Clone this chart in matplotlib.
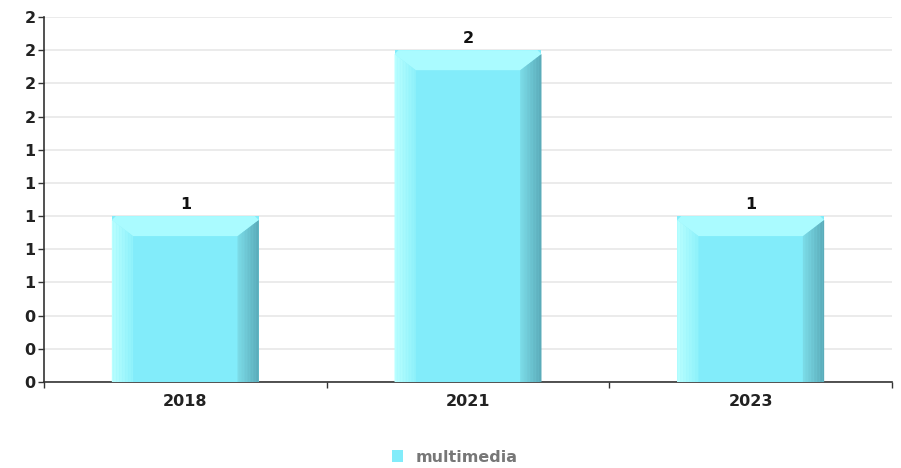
import matplotlib
matplotlib.use("Agg")
import matplotlib.pyplot as plt
from matplotlib.patches import Polygon, Rectangle
import numpy as np

categories = ["2018", "2021", "2023"]
values = [1, 2, 1]
series_name = "multimedia"
ytick_values = [0, 0.2, 0.4, 0.6, 0.8, 1.0, 1.2, 1.4, 1.6, 1.8, 2.0, 2.2]
ytick_labels = ["0", "0", "0", "1", "1", "1", "1", "1", "2", "2", "2", "2"]

W, H = 901, 468
fig = plt.figure(figsize=(W / 100, H / 100), dpi=100)
ax = fig.add_axes([44 / W, (H - 382) / H, (892 - 44) / W, (382 - 17) / H])

x = np.arange(len(categories))
bw = 0.52
main = "#82ecfa"
ax.set_xlim(-0.5, len(categories) - 0.5)
ax.set_ylim(0, 2.2)

bars = ax.bar(x, values, width=bw, color=main, zorder=3, linewidth=0)

px_x = len(categories) / (892 - 44)
px_y = 2.2 / (382 - 17)
bx = 21 * px_x
by = 20 * px_y
cr = 4  # corner cut in px


def lerp(c0, c1, t):
    return (np.array(c0) * (1 - t) + np.array(c1) * t) / 255.0


n = 14
for xi, v in zip(x, values):
    l, r = xi - bw / 2, xi + bw / 2
    # top strip
    ax.add_patch(Polygon([(l, v - cr * px_y), (l + cr * px_x, v), (r - cr * px_x, v),
                          (r, v - cr * px_y), (r - bx, v - by), (l + bx, v - by)],
                         closed=True, facecolor="#aafbff", edgecolor="none", zorder=4))
    # left strip with gradient, top follows diagonal
    for k in range(n):
        x0 = l + bx * k / n
        x1 = l + bx * (k + 1) / n
        t0, t1 = (x0 - l) / bx, (x1 - l) / bx
        y0 = (v - cr * px_y) + t0 * (-(by - cr * px_y))
        y1 = (v - cr * px_y) + t1 * (-(by - cr * px_y))
        c = lerp([0xbb, 0xff, 0xff], [0x8e, 0xf1, 0xfb], (k + 0.5) / n)
        ax.add_patch(Polygon([(x0, 0), (x1 + 0.3 * px_x, 0), (x1 + 0.3 * px_x, y1), (x0, y0)],
                             closed=True, facecolor=c, edgecolor="none", zorder=4))
    # right strip with gradient
    for k in range(n):
        x0 = r - bx + bx * k / n
        x1 = r - bx + bx * (k + 1) / n
        t0, t1 = (x0 - (r - bx)) / bx, (x1 - (r - bx)) / bx
        y0 = (v - by) + t0 * (by - cr * px_y)
        y1 = (v - by) + t1 * (by - cr * px_y)
        c = lerp([0x7c, 0xdc, 0xe8], [0x5a, 0xaa, 0xb8], (k + 0.5) / n)
        ax.add_patch(Polygon([(x0 - 0.3 * px_x, 0), (x1, 0), (x1, y1), (x0 - 0.3 * px_x, y0)],
                             closed=True, facecolor=c, edgecolor="none", zorder=4))
    ax.text(xi, v + 0.025, str(v), ha="center", va="bottom", fontsize=11.5,
            fontweight="bold", color="#111111", zorder=5)

ax.set_yticks(ytick_values)
ax.set_yticklabels(ytick_labels, fontsize=11.5, fontweight="bold", color="#222222")
ax.yaxis.grid(True, color="#e8e8e8", linewidth=1.2, zorder=0)
ax.set_axisbelow(True)

ax.set_xticks(x)
ax.set_xticklabels(categories, fontsize=11.5, fontweight="bold", color="#222222")
ax.tick_params(axis="x", length=0, pad=9)
ax.set_xticks(np.arange(len(categories) + 1) - 0.5, minor=True)
ax.tick_params(axis="x", which="minor", length=4, width=1, color="#333333")
ax.tick_params(axis="y", length=4, width=1, color="#333333", pad=2)

for s in ["top", "right"]:
    ax.spines[s].set_visible(False)
for s in ["left", "bottom"]:
    ax.spines[s].set_color("#333333")
    ax.spines[s].set_linewidth(1.2)
    ax.spines[s].set_zorder(2)

leg_handle = Rectangle((0, 0), 1, 1, facecolor=main, edgecolor="none")
leg = fig.legend([leg_handle], [series_name], loc="center", bbox_to_anchor=(455 / W, 1 - 457 / H),
                 frameon=False, handlelength=0.7, handleheight=0.7, handletextpad=0.8,
                 prop={"size": 11.5, "weight": "bold"})
for t in leg.get_texts():
    t.set_color("#777777")

fig.savefig("out.png", dpi=100)
